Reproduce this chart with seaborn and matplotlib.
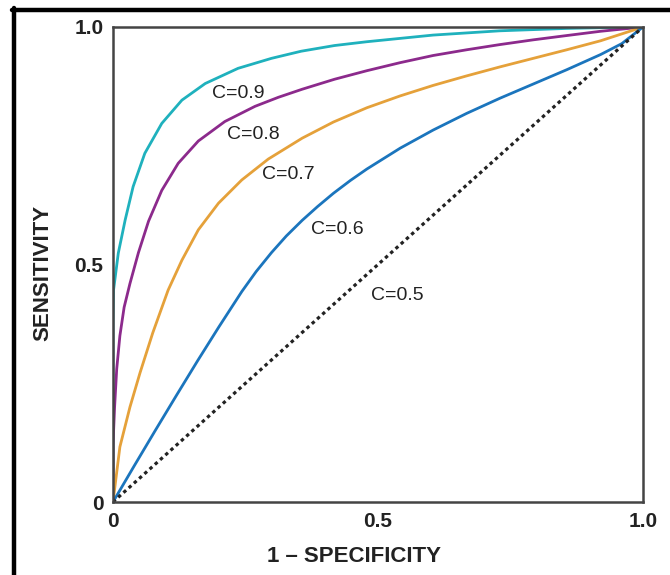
import matplotlib.pyplot as plt
import seaborn as sns
import pandas as pd
from matplotlib.lines import Line2D

# ROC curves (1 - specificity, sensitivity)
c09_x = [0.0, 0.0, 0.001, 0.010, 0.023, 0.038, 0.060, 0.092, 0.130, 0.174, 0.236, 0.299, 0.355,
         0.418, 0.479, 0.604, 0.730, 0.856, 0.94, 1.0]
c09_y = [0.0, 0.38, 0.446, 0.524, 0.594, 0.664, 0.734, 0.797, 0.846, 0.881, 0.913, 0.934, 0.949,
         0.961, 0.969, 0.983, 0.992, 0.997, 0.999, 1.0]

c08_x = [0.0, 0.0, 0.003, 0.007, 0.013, 0.021, 0.032, 0.048, 0.067, 0.092, 0.123, 0.161, 0.211,
         0.268, 0.312, 0.357, 0.418, 0.479, 0.542, 0.604, 0.667, 0.730, 0.793, 0.856, 0.92, 1.0]
c08_y = [0.0, 0.12, 0.2, 0.28, 0.35, 0.41, 0.46, 0.525, 0.591, 0.656, 0.713, 0.760, 0.801,
         0.833, 0.852, 0.869, 0.890, 0.908, 0.925, 0.940, 0.952, 0.963, 0.973, 0.982, 0.991, 1.0]

c07_x = [0.0, 0.013, 0.032, 0.051, 0.075, 0.104, 0.130, 0.161, 0.199, 0.243, 0.293, 0.357,
         0.416, 0.479, 0.542, 0.604, 0.667, 0.730, 0.793, 0.856, 0.92, 1.0]
c07_y = [0.0, 0.116, 0.2, 0.272, 0.356, 0.446, 0.509, 0.573, 0.629, 0.678, 0.722, 0.766,
         0.800, 0.830, 0.855, 0.877, 0.897, 0.916, 0.934, 0.952, 0.971, 1.0]

c06_x = [0.0, 0.04, 0.08, 0.12, 0.16, 0.2, 0.243, 0.27, 0.299, 0.327, 0.357, 0.386, 0.416, 0.448,
         0.479, 0.542, 0.604, 0.667, 0.730, 0.793, 0.856, 0.92, 0.96, 1.0]
c06_y = [0.0, 0.076, 0.151, 0.225, 0.298, 0.369, 0.443, 0.485, 0.525, 0.560, 0.593, 0.622, 0.650,
         0.677, 0.701, 0.745, 0.783, 0.818, 0.850, 0.880, 0.910, 0.942, 0.965, 1.0]

chance_x = [0.0, 1.0]
chance_y = [0.0, 1.0]

curve_names = ["C=0.9", "C=0.8", "C=0.7", "C=0.6"]
curve_colors = ["#1fb1bd", "#8c2a8c", "#e5a13a", "#1b75bd"]

# label positions for the annotations
label_text = ["C=0.9", "C=0.8", "C=0.7", "C=0.6", "C=0.5"]
label_x = [0.236, 0.264, 0.33, 0.424, 0.536]
label_y = [0.860, 0.774, 0.689, 0.573, 0.434]

xticks = [0, 0.5, 1.0]
xtick_labels = ["0", "0.5", "1.0"]
yticks = [0, 0.5, 1.0]
ytick_labels = ["0", "0.5", "1.0"]

sns.set_style("white")
plt.rcParams["font.family"] = ["Liberation Sans", "DejaVu Sans"]

frames = []
for name, xs, ys in zip(curve_names, [c09_x, c08_x, c07_x, c06_x], [c09_y, c08_y, c07_y, c06_y]):
    frames.append(pd.DataFrame({"fpr": xs, "tpr": ys, "curve": name}))
df = pd.concat(frames, ignore_index=True)

fig = plt.figure(figsize=(6.7, 5.75), dpi=100)
ax = fig.add_axes([113 / 670, 1 - 502 / 575, 530 / 670, 475 / 575])

sns.lineplot(data=df, x="fpr", y="tpr", hue="curve", palette=dict(zip(curve_names, curve_colors)),
             sort=False, estimator=None, linewidth=2.0, legend=False, ax=ax)
ax.plot(chance_x, chance_y, color="#222222", linewidth=2.3, linestyle=(0, (1.1, 1.1)))

for t, x, y in zip(label_text, label_x, label_y):
    ax.text(x, y, t, fontsize=14, ha="center", va="center", color="#222222")

ax.set_xlim(0, 1)
ax.set_ylim(0, 1)
ax.set_xticks(xticks)
ax.set_xticklabels(xtick_labels)
ax.set_yticks(yticks)
ax.set_yticklabels(ytick_labels)
ax.tick_params(direction="out", length=6, width=1.2, color="#444444", labelsize=15,
               labelcolor="#222222", pad=1)
for lab in ax.get_xticklabels() + ax.get_yticklabels():
    lab.set_fontweight("bold")
for s in ax.spines.values():
    s.set_color("#444444")
    s.set_linewidth(1.8)

label_font = dict(fontsize=16, fontweight="bold", color="#222222")
ax.set_xlabel("1 – SPECIFICITY", **label_font)
ax.set_ylabel("SENSITIVITY", **label_font)
ax.xaxis.set_label_coords(0.455, -0.092)
ax.yaxis.set_label_coords(-0.112, 0.483)

# black frame on the left and top edges of the figure
fig.add_artist(Line2D([14 / 670, 14 / 670], [0, 1 - 8 / 575], color="black", linewidth=3.2))
fig.add_artist(Line2D([12 / 670, 1], [1 - 10 / 575, 1 - 10 / 575], color="black", linewidth=3.2))

fig.savefig("out.png", dpi=100)
